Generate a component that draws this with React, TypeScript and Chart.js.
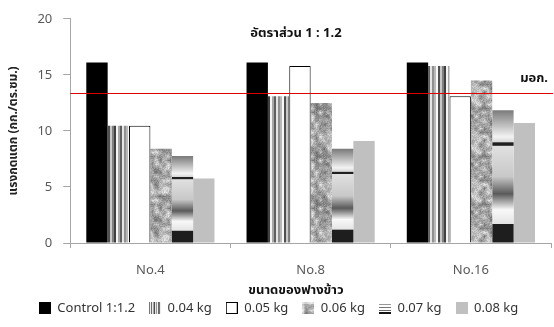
import React, { useEffect, useRef } from "react";
import { Chart, registerables } from "chart.js";

Chart.register(...registerables);

const categories = ["No.4", "No.8", "No.16"];
const seriesLabels = ["Control 1:1.2", "0.04 kg", "0.05 kg", "0.06 kg", "0.07 kg", "0.08 kg"];
const controlValues = [16.1, 16.1, 16.1];
const kg004Values = [10.45, 13.1, 15.8];
const kg005Values = [10.45, 15.8, 13.1];
const kg006Values = [8.4, 12.5, 14.5];
const kg007Values = [7.75, 8.4, 11.85];
const kg008Values = [5.75, 9.1, 10.7];
const standardValue = 13.4;
const yTicks = [0, 5, 10, 15, 20];
const titleText = "อัตราส่วน 1 : 1.2";
const standardLabel = "มอก.";
const xTitle = "ขนาดของฟางข้าว";
const yTitle = "แรงกดแตก (กก./ตร.ซม.)";

const FONT = '"Noto Sans", "Noto Sans Thai", Tahoma, "DejaVu Sans", sans-serif';

function hash(i: number) {
  const x = Math.sin(i * 12.9898 + 78.233) * 43758.5453;
  return x - Math.floor(x);
}

function makeStripeCanvas() {
  const cols = ["#c8c8c8", "#808080", "#404040", "#f4f4f4", "#a8a8a8", "#606060", "#e4e4e4", "#909090", "#b8b8b8", "#f8f8f8", "#505050"];
  const c = document.createElement("canvas");
  c.width = cols.length * 2;
  c.height = 4;
  const g = c.getContext("2d")!;
  cols.forEach((col, i) => {
    g.fillStyle = col;
    g.fillRect(i * 2, 0, 2, 4);
  });
  return c;
}

function makeNoiseCanvas() {
  const size = 48;
  const cell = 4;
  const n = size / cell;
  const c = document.createElement("canvas");
  c.width = size;
  c.height = size;
  const g = c.getContext("2d")!;
  const img = g.createImageData(size, size);
  const grid = (i: number, j: number) => hash(((i + n) % n) * 31 + ((j + n) % n) * 977);
  for (let y = 0; y < size; y++) {
    for (let x = 0; x < size; x++) {
      const gx = x / cell, gy = y / cell;
      const i0 = Math.floor(gx), j0 = Math.floor(gy);
      const fx = gx - i0, fy = gy - j0;
      const a = grid(i0, j0), b = grid(i0 + 1, j0), cc = grid(i0, j0 + 1), d = grid(i0 + 1, j0 + 1);
      const coarse = a * (1 - fx) * (1 - fy) + b * fx * (1 - fy) + cc * (1 - fx) * fy + d * fx * fy;
      const fine = hash(x * 131 + y * 7919 + 5);
      let v = 168 + (coarse - 0.5) * 110 + (fine - 0.5) * 40;
      v = Math.max(50, Math.min(235, v));
      const k = (y * size + x) * 4;
      img.data[k] = v;
      img.data[k + 1] = v;
      img.data[k + 2] = v;
      img.data[k + 3] = 255;
    }
  }
  g.putImageData(img, 0, 0);
  return c;
}

function icon(draw: (g: CanvasRenderingContext2D) => void) {
  const c = document.createElement("canvas");
  c.width = 12;
  c.height = 12;
  const g = c.getContext("2d")!;
  draw(g);
  return c;
}

const gradientStops: [number, string][] = [
  [0, "#7a7a7a"],
  [0.2, "#f2f2f2"],
  [0.24, "#d8d8d8"],
  [0.245, "#202020"],
  [0.265, "#202020"],
  [0.27, "#e0e0e0"],
  [0.5, "#c8c8c8"],
  [0.63, "#5a5a5a"],
  [0.75, "#f8f8f8"],
  [0.855, "#e4e4e4"],
  [0.86, "#1e1e1e"],
  [1, "#1e1e1e"],
];

export default function App() {
  const ref = useRef<HTMLCanvasElement | null>(null);
  useEffect(() => {
    document.body.style.margin = "0";
    const canvas = ref.current!;
    const ctx = canvas.getContext("2d")!;
    const stripeCanvas = makeStripeCanvas();
    const noiseCanvas = makeNoiseCanvas();
    const stripe = ctx.createPattern(stripeCanvas, "repeat")!;
    const noise = ctx.createPattern(noiseCanvas, "repeat")!;

    const icons = [
      icon((g) => {
        g.fillStyle = "#000";
        g.fillRect(0, 0, 12, 12);
      }),
      icon((g) => {
        g.fillStyle = "#fff";
        g.fillRect(0, 0, 12, 12);
        const xs = [0, 2, 4, 5, 7, 9, 10];
        const cs = ["#777", "#555", "#999", "#444", "#888", "#555", "#777"];
        xs.forEach((x, i) => {
          g.fillStyle = cs[i];
          g.fillRect(x, 0, 1, 12);
        });
      }),
      icon((g) => {
        g.fillStyle = "#fff";
        g.fillRect(0, 0, 12, 12);
        g.strokeStyle = "#000";
        g.lineWidth = 1;
        g.strokeRect(0.5, 0.5, 11, 11);
      }),
      icon((g) => {
        g.drawImage(noiseCanvas, 0, 0, 12, 12, 0, 0, 12, 12);
        g.fillStyle = "rgba(255,255,255,0.5)";
        g.fillRect(0, 0, 12, 2);
        g.fillRect(0, 0, 2, 12);
      }),
      icon((g) => {
        g.fillStyle = "#fff";
        g.fillRect(0, 0, 12, 12);
        g.fillStyle = "#999";
        g.fillRect(0, 2, 12, 1);
        g.fillStyle = "#777";
        g.fillRect(0, 5, 12, 1);
        g.fillStyle = "#666";
        g.fillRect(0, 8, 12, 1);
        g.fillStyle = "#111";
        g.fillRect(0, 10, 12, 2);
      }),
      icon((g) => {
        g.fillStyle = "#c0c0c0";
        g.fillRect(0, 0, 12, 12);
      }),
    ];

    const gradientFill = (c: any) => {
      if (c.type !== "data") return "#888";
      const chart = c.chart;
      const ys = chart.scales.y;
      if (!ys || !chart.chartArea) return "#888";
      const top = ys.getPixelForValue(c.raw);
      const base = ys.getPixelForValue(0);
      if (!isFinite(top) || !isFinite(base) || base - top < 1) return "#888";
      const g = chart.ctx.createLinearGradient(0, top, 0, base);
      gradientStops.forEach(([o, col]) => g.addColorStop(o, col));
      return g;
    };

    const overlay = {
      id: "overlay",
      afterDatasetsDraw(chart: any) {
        const { ctx: cx, chartArea, scales } = chart;
        const y = scales.y.getPixelForValue(standardValue);
        cx.save();
        cx.strokeStyle = "#e00000";
        cx.lineWidth = 1;
        cx.beginPath();
        cx.moveTo(chartArea.left, Math.round(y) + 0.5);
        cx.lineTo(chartArea.right + 2, Math.round(y) + 0.5);
        cx.stroke();
        cx.fillStyle = "#111";
        cx.font = `bold 13px ${FONT}`;
        cx.textAlign = "center";
        cx.textBaseline = "middle";
        cx.fillText(titleText, 296, 33);
        cx.fillText(xTitle, 296, 290);
        cx.textAlign = "right";
        cx.fillText(standardLabel, 548, 78);
        cx.restore();
      },
    };

    const chart = new Chart(ctx, {
      type: "bar",
      data: {
        labels: categories,
        datasets: [
          { label: seriesLabels[0], data: controlValues, backgroundColor: "#000000", borderWidth: 0, pointStyle: icons[0] },
          { label: seriesLabels[1], data: kg004Values, backgroundColor: stripe, borderWidth: 0, pointStyle: icons[1] },
          { label: seriesLabels[2], data: kg005Values, backgroundColor: "#ffffff", borderColor: "#000000", borderWidth: 1, pointStyle: icons[2] },
          { label: seriesLabels[3], data: kg006Values, backgroundColor: noise, borderWidth: 0, pointStyle: icons[3] },
          { label: seriesLabels[4], data: kg007Values, backgroundColor: gradientFill as any, borderWidth: 0, pointStyle: icons[4] },
          { label: seriesLabels[5], data: kg008Values, backgroundColor: "#c0c0c0", borderWidth: 0, pointStyle: icons[5] },
        ] as any,
      },
      options: {
        responsive: false,
        animation: false,
        layout: { padding: { top: 10, right: 3, left: 6, bottom: 2.5 } },
        datasets: { bar: { barPercentage: 1, categoryPercentage: 0.8 } },
        plugins: {
          tooltip: { enabled: false },
          legend: {
            position: "bottom",
            labels: {
              usePointStyle: true,
              boxWidth: 12,
              boxHeight: 12,
              padding: 14,
              color: "#333",
              font: { family: FONT, size: 13 },
            },
          },
        },
        scales: {
          x: {
            grid: { display: true, drawOnChartArea: false, offset: true, tickLength: 5, color: "#a6a6a6" },
            border: { color: "#a6a6a6" },
            ticks: { color: "#595959", font: { family: FONT, size: 13 }, padding: 14 },
            afterFit: (s: any) => {
              s.height = 44.5;
            },
          },
          y: {
            min: 0,
            max: 20,
            afterBuildTicks: (s: any) => {
              s.ticks = yTicks.map((v) => ({ value: v }));
            },
            grid: { display: true, drawOnChartArea: false, tickLength: 7, color: "#a6a6a6" },
            border: { color: "#a6a6a6" },
            ticks: { color: "#595959", font: { family: FONT, size: 13 }, padding: 11 },
            title: { display: true, text: yTitle, color: "#222", font: { family: FONT, size: 12, weight: "bold" }, padding: { top: 0, bottom: 6 } },
          },
        },
      },
      plugins: [overlay],
    });
    return () => chart.destroy();
  }, []);
  return (
    <div style={{ position: "absolute", left: 0, top: 0, width: 554, height: 327 }}>
      <canvas ref={ref} width={554} height={327} />
    </div>
  );
}
